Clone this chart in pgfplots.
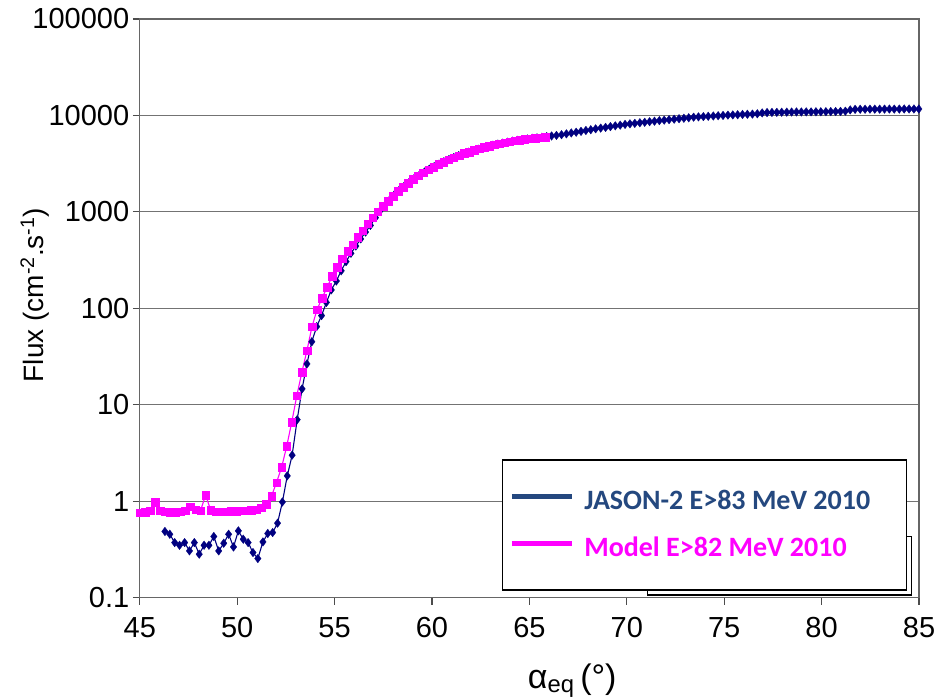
\documentclass[border=0pt]{standalone}
\usepackage{fontspec}
\setmainfont{Liberation Sans}
\newfontfamily\carlito{Carlito}
\usepackage{pgfplots}
\pgfplotsset{compat=1.18}
\definecolor{jnavy}{HTML}{000080}
\definecolor{jleg}{HTML}{24487F}
\definecolor{mag}{HTML}{FF00FF}
\begin{document}
\begin{tikzpicture}
\path[use as bounding box] (0,0) rectangle (935pt,700pt);
\begin{axis}[
  at={(139.8pt,102.4pt)}, anchor=south west,
  scale only axis, width=779.2pt, height=578.6pt,
  xmin=45, xmax=85, ymin=0.1, ymax=100000,
  ymode=log, log basis y=10,
  xtick={45,50,...,85},
  ytick={0.1,1,10,100,1000,10000,100000},
  yticklabels={0.1,1,10,100,1000,10000,100000},
  yminorticks=false,
  xtick pos=left, ytick pos=left,
  tick align=outside, major tick length=7pt,
  tick style={black!70, line width=1.2pt},
  ymajorgrids, grid style={black!55, line width=1.2pt},
  axis line style={black!60, line width=1.3pt},
  ticklabel style={font=\fontsize{29}{29}\selectfont},
  xticklabel style={yshift=-9pt},
  /pgf/number format/assume math mode=true,
  xlabel={α\textsubscript{eq}\,(°)},
  xlabel style={font=\fontsize{34}{34}\selectfont, at={(rel axis cs:0.555,-0.143)}, anchor=center},
  ylabel={Flux (cm\textsuperscript{-2}.s\textsuperscript{-1})},
  ylabel style={font=\fontsize{28}{28}\selectfont, at={(rel axis cs:-0.135,0.523)}, anchor=center},
  legend cell align=left,
  legend style={draw=none, fill=none, at={(rel axis cs:0.474,0.1283)}, anchor=west,
    inner sep=0pt, row sep=24pt,
    font=\carlito\bfseries\fontsize{28}{30}\selectfont,
    nodes={text height=19pt, text depth=0pt},
    /tikz/every odd column/.append style={column sep=8pt}},
  legend image code/.code={\draw[#1, line width=5pt] (0pt,0.3em) -- (60pt,0.3em);},
]
\addplot[color=jnavy, line width=1.1pt, mark=diamond*, mark size=4.3pt,
  mark options={fill=jnavy, draw=jnavy, line width=0.3pt},
  legend image post style={color=jleg}] table {
46.29 0.485
46.54 0.454
46.79 0.372
47.04 0.349
47.30 0.372
47.55 0.305
47.80 0.372
48.05 0.282
48.30 0.349
48.55 0.349
48.80 0.43
49.05 0.305
49.31 0.366
49.56 0.454
49.81 0.335
50.06 0.492
50.31 0.403
50.56 0.372
50.81 0.293
51.06 0.254
51.32 0.378
51.57 0.462
51.82 0.473
52.07 0.591
52.32 0.98
52.57 1.83
52.82 3.0
53.08 7.0
53.33 14.6
53.58 26.5
53.83 45
54.08 64.6
54.33 84
54.58 115
54.83 155
55.09 192
55.34 245
55.59 305
55.84 372
56.09 442
56.34 524
56.59 617
56.84 724
57.10 871
57.35 1035
57.60 1183
57.85 1349
58.10 1538
58.35 1710
58.60 1879
58.86 2065
59.11 2254
59.36 2415
59.61 2588
59.86 2773
60.11 2944
60.36 3126
60.61 3311
60.87 3491
61.12 3664
61.37 3837
61.62 4018
61.87 4159
62.12 4315
62.37 4467
62.62 4624
62.88 4753
63.13 4909
63.38 5047
63.63 5164
63.88 5284
64.13 5420
64.38 5521
64.63 5610
64.89 5702
65.14 5794
65.39 5861
65.64 5943
65.89 6026
66.14 6124
66.39 6209
66.65 6310
66.90 6442
67.15 6577
67.40 6699
67.65 6839
67.90 6982
68.15 7112
68.40 7261
68.66 7396
68.91 7516
69.16 7656
69.41 7798
69.66 7925
69.91 8072
70.16 8185
70.41 8279
70.67 8395
70.92 8492
71.17 8610
71.42 8710
71.67 8831
71.92 8933
72.17 9036
72.43 9141
72.68 9247
72.93 9354
73.18 9462
73.43 9594
73.68 9661
73.93 9727
74.18 9795
74.44 9863
74.69 9931
74.94 10000
75.19 10069
75.44 10116
75.69 10162
75.94 10233
76.19 10280
76.45 10328
76.70 10399
76.95 10617
77.20 10715
77.45 10740
77.70 10765
77.95 10789
78.21 10814
78.46 10839
78.71 10864
78.96 10864
79.21 10889
79.46 10889
79.71 10914
79.96 10914
80.22 10940
80.47 10965
80.72 10990
80.97 11015
81.22 11066
81.47 11400
81.72 11560
81.98 11588
82.23 11588
82.48 11614
82.73 11614
82.98 11614
83.23 11641
83.48 11641
83.73 11641
83.99 11641
84.24 11668
84.49 11668
84.74 11668
84.99 11668
};
\addlegendentry{\textcolor{jleg}{JASON-2 E>83 MeV 2010}}
\addplot[color=mag, line width=1.1pt, mark=square*, mark size=3.8pt,
  mark options={fill=mag, draw=mag, line width=0.3pt}] table {
45.00 0.76
45.26 0.77
45.52 0.80
45.78 0.98
46.04 0.80
46.30 0.78
46.56 0.77
46.82 0.77
47.08 0.78
47.34 0.80
47.60 0.88
47.86 0.82
48.12 0.80
48.38 1.15
48.64 0.81
48.90 0.78
49.16 0.78
49.42 0.78
49.68 0.79
49.94 0.79
50.20 0.80
50.46 0.80
50.72 0.81
50.98 0.82
51.24 0.86
51.50 0.93
51.76 1.13
52.02 1.56
52.28 2.24
52.54 3.7
52.80 6.6
53.06 12.4
53.32 21.7
53.58 36.4
53.84 64.5
54.10 97
54.36 128
54.62 166
54.88 215
55.14 267
55.40 326
55.66 392
55.92 459
56.18 547
56.44 641
56.70 752
56.96 871
57.22 1007
57.48 1143
57.74 1291
58.00 1459
58.26 1637
58.52 1803
58.78 1986
59.04 2188
59.30 2377
59.56 2553
59.82 2742
60.08 2924
60.34 3105
60.60 3296
60.86 3483
61.12 3656
61.38 3846
61.64 4036
61.90 4188
62.16 4345
62.42 4508
62.68 4656
62.94 4797
63.20 4955
63.46 5093
63.72 5224
63.98 5346
64.24 5458
64.50 5546
64.76 5649
65.02 5741
65.28 5821
65.54 5902
65.80 5984
};
\addlegendentry{\textcolor{mag}{Model E>82 MeV 2010}}
\draw[black, line width=1.1pt] (rel axis cs:0.6513,0.0045) rectangle (rel axis cs:0.9906,0.1053);
\draw[black, line width=1.3pt, fill=white] (rel axis cs:0.4652,0.0131) rectangle (rel axis cs:0.9842,0.2378);
\end{axis}
\end{tikzpicture}
\end{document}
